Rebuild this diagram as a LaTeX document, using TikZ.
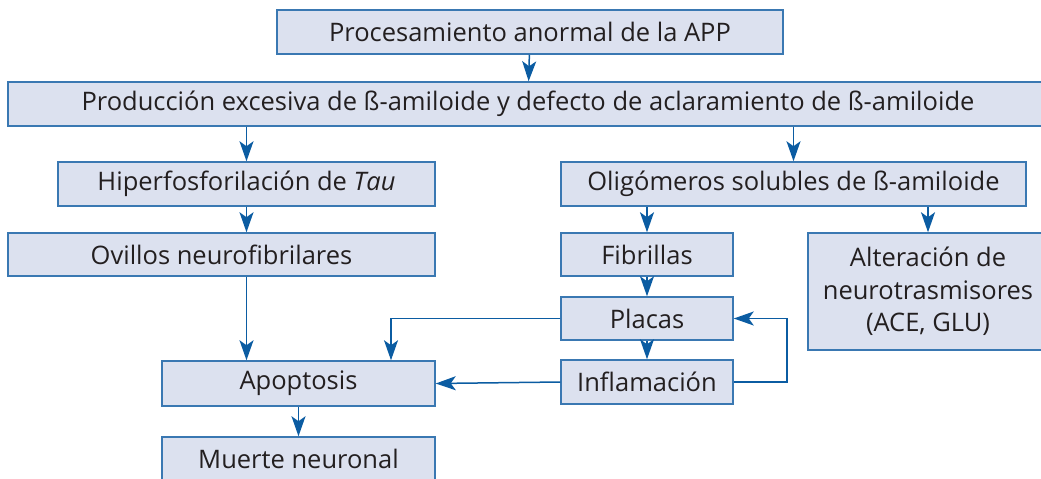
\documentclass[tikz,border=0pt]{standalone}
\usepackage{fontspec}
\setmainfont{Open Sans}
\usetikzlibrary{arrows.meta}
\definecolor{cajafondo}{HTML}{DCE1EF}
\definecolor{cajaborde}{HTML}{3A78B2}
\definecolor{flecha}{HTML}{0B5CA2}
\definecolor{letra}{HTML}{231F20}

\begin{document}
\begin{tikzpicture}[x=1pt,y=-1pt,
  caja/.style={draw=cajaborde,fill=cajafondo,line width=1.5pt,
    minimum height=44pt,inner sep=0pt,text=letra,
    font=\fontsize{25.5}{32.5}\selectfont},
  flechaazul/.style={draw=flecha,line width=1.5pt,
    -{Stealth[length=20pt,width=14pt,inset=5pt]}}]
\useasboundingbox (0,0) rectangle (1041,479);
\clip (0,0) rectangle (1041,479);
% cajas
\node[caja,minimum width=506pt] (app) at (530,32) {Procesamiento anormal de la APP};
\node[caja,minimum width=1040pt] (prod) at (528,104)
  {Producción excesiva de ß-amiloide y defecto de aclaramiento de ß-amiloide};
\node[caja,minimum width=377pt] (hiper) at (246.5,184) {Hiperfosforilación de \textit{Tau}};
\node[caja,minimum width=465pt] (olig) at (793.5,184) {Oligómeros solubles de ß-amiloide};
\node[caja,minimum width=427pt,minimum height=43pt] (ovillos) at (221.5,254.5) {Ovillos neurofibrilares};
\node[caja,minimum width=172pt,minimum height=43pt] (fibr) at (647,254.5) {Fibrillas};
\node[caja,minimum width=240pt,minimum height=117pt,align=center] (alter) at (928,291.5)
  {Alteración de\\neurotrasmisores\\(ACE, GLU)};
\node[caja,minimum width=172pt,minimum height=43pt] (placas) at (647,318.5) {Placas};
\node[caja,minimum width=172pt] (infl) at (647,382) {Inflamación};
\node[caja,minimum width=273pt,minimum height=45pt] (apop) at (298.5,383.5) {Apoptosis};
\node[caja,minimum width=273pt] (muerte) at (298.5,459) {Muerte neuronal};
\coordinate (codo1) at (391,318.5);
\coordinate (codo2) at (787,382);
% flechas
\draw[flechaazul] (app) -- (prod);
\draw[flechaazul] (prod.south -| hiper) -- (hiper);
\draw[flechaazul] (prod.south -| olig) -- (olig);
\draw[flechaazul] (hiper) -- (ovillos.north -| hiper);
\draw[flechaazul] (ovillos.south -| hiper) -- (apop.north -| hiper);
\draw[flechaazul] (olig.south -| fibr) -- (fibr);
\draw[flechaazul] (olig.south -| alter) -- (alter);
\draw[flechaazul] (fibr) -- (placas);
\draw[flechaazul] (placas) -- (infl);
\draw[flechaazul] (placas.west) -- (codo1) -- (apop.north -| codo1);
\draw[flechaazul] (infl.west) -- (apop.east);
\draw[flechaazul] (infl.east) -- (codo2) |- (placas.east);
\draw[flechaazul] (apop) -- (muerte);
\end{tikzpicture}
\end{document}
